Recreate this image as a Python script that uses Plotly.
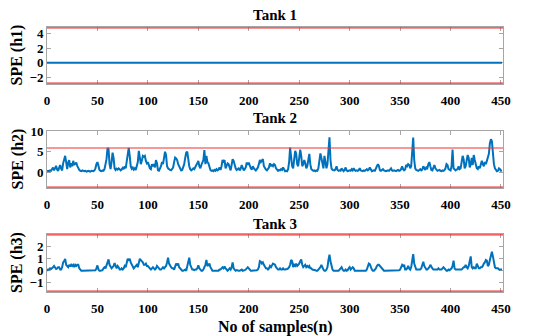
import plotly.graph_objects as go

# ---------------- data ----------------
n_samples = 452
x_ticks = [0, 50, 100, 150, 200, 250, 300, 350, 400, 450]

tank_titles = ["Tank 1", "Tank 2", "Tank 3"]
y_titles = ["SPE (h1)", "SPE (h2)", "SPE (h3)"]

tank1_spe = [0.0] * n_samples

tank2_spe = [
    0.3, 0.4, 0.3, 0.5, 0.4, 0.8, 1.2, 0.5, 0.9, 1.6, 0.7, 0.4, 1.1, 1.8, 0.9, 0.5, 2.2, 3.6, 4.0, 2.5,
    0.8, 2.4, 3.0, 1.2, 2.2, 1.5, 2.8, 1.8, 2.1, 2.4, 1.6, 1.0, 0.6, 0.4, 0.3, 0.5, 0.4, 0.3, 0.4, 0.2,
    0.3, 0.4, 0.3, 0.2, 0.4, 0.3, 0.3, 0.5, 1.0, 2.0, 2.5, 1.6, 0.6, 0.4, 0.3, 0.5, 0.4, 0.8, 1.8, 3.2,
    5.9, 5.6, 2.0, 0.8, 2.5, 4.8, 3.5, 1.0, 0.6, 0.9, 0.7, 1.0, 0.8, 0.5, 0.7, 1.1, 0.8, 1.5, 1.0, 2.5,
    4.5, 5.9, 4.0, 1.5, 0.9, 1.2, 0.7, 1.0, 0.6, 1.5, 2.5, 5.2, 3.5, 2.0, 2.8, 4.0, 3.8, 4.0, 2.8, 2.2,
    2.5, 1.5, 1.0, 0.8, 2.0, 1.5, 2.0, 1.2, 3.0, 2.2, 0.5, 0.4, 0.8, 1.5, 2.5, 2.0, 3.5, 5.0, 4.2, 1.5,
    1.0, 0.7, 0.6, 0.5, 0.8, 1.2, 2.5, 3.6, 3.4, 3.0, 2.0, 1.5, 0.8, 0.5, 0.6, 1.2, 2.0, 3.5, 4.8, 5.0,
    2.5, 1.5, 0.8, 0.5, 0.7, 1.0, 0.8, 1.5, 1.8, 2.2, 2.8, 1.5, 1.0, 1.8, 2.5, 3.0, 5.4, 2.0, 4.0, 2.5,
    2.2, 1.0, 0.6, 0.4, 0.5, 0.3, 0.6, 0.4, 0.8, 0.5, 0.7, 1.2, 0.6, 1.5, 3.0, 2.6, 3.0, 1.0, 1.5, 2.2,
    2.0, 1.0, 0.5, 1.8, 3.2, 2.8, 1.5, 1.0, 0.6, 0.8, 1.0, 0.5, 0.9, 1.8, 1.0, 0.5, 0.8, 1.2, 2.4, 1.8,
    2.4, 1.5, 1.0, 0.7, 1.5, 1.0, 0.6, 0.5, 0.8, 1.2, 2.0, 3.0, 2.5, 2.8, 3.2, 1.5, 1.0, 0.7, 0.5, 0.8,
    1.2, 2.2, 1.5, 1.8, 1.5, 2.0, 1.8, 1.0, 0.5, 0.4, 0.6, 0.5, 0.8, 0.6, 1.2, 0.5, 0.3, 0.4, 0.3, 0.8,
    2.5, 6.0, 4.0, 1.5, 1.0, 3.0, 5.2, 4.5, 2.0, 1.5, 3.5, 5.5, 4.0, 1.5, 2.0, 3.0, 2.2, 1.0, 1.5, 3.5,
    4.5, 2.0, 0.8, 0.6, 0.4, 0.5, 0.3, 0.5, 0.4, 1.0, 3.0, 4.6, 3.5, 1.5, 1.0, 4.0, 2.2, 1.0, 2.0, 6.5,
    8.5, 3.0, 1.0, 0.6, 0.5, 0.5, 0.8, 1.5, 0.6, 0.4, 0.5, 0.4, 1.0, 0.5, 0.3, 0.6, 1.2, 0.5, 0.3, 0.4,
    0.5, 0.4, 0.8, 0.5, 1.0, 0.6, 0.4, 0.5, 0.4, 0.6, 1.0, 0.5, 0.4, 0.3, 0.5, 0.4, 0.6, 0.8, 0.5, 0.7,
    1.2, 0.6, 0.3, 0.4, 0.5, 0.4, 0.8, 1.5, 2.0, 1.6, 0.5, 0.4, 0.6, 0.8, 0.5, 0.4, 0.3, 0.4, 0.5, 0.4,
    0.6, 1.0, 0.5, 0.4, 0.5, 0.4, 0.3, 0.5, 0.6, 0.4, 0.5, 0.8, 1.5, 0.8, 0.5, 0.7, 1.8, 1.5, 2.0, 1.8,
    1.0, 1.5, 6.0, 8.4, 3.0, 1.0, 0.6, 0.5, 0.4, 0.6, 0.8, 0.5, 0.7, 1.5, 0.8, 0.6, 1.2, 1.0, 2.0, 2.5,
    1.5, 0.6, 0.5, 1.0, 1.8, 1.0, 0.5, 0.4, 0.5, 0.6, 0.4, 0.3, 0.5, 0.4, 0.6, 1.0, 2.0, 1.8, 0.8, 0.6,
    0.5, 1.5, 5.5, 1.0, 0.6, 0.5, 0.7, 0.8, 1.5, 0.8, 1.0, 2.5, 4.0, 3.2, 1.0, 1.5, 3.0, 4.2, 3.5, 1.2,
    2.0, 3.5, 1.8, 4.2, 3.0, 1.5, 1.0, 0.8, 1.5, 1.0, 1.8, 2.8, 2.0, 1.5, 2.5, 2.0, 2.8, 3.5, 4.5, 7.0,
    8.0, 7.5, 4.0, 2.0, 1.0, 0.5, 0.3, 0.4, 1.0, 0.8, 0.4, 0.5,
]

tank3_spe = [
    0.0, 0.1, 0.1, 0.2, 0.15, 0.2, 0.3, 0.4, 0.2, 0.15, 0.2, 0.3, 0.3, 0.1, 0.1, 0.3, 0.7, 0.8, 1.0, 0.5,
    0.4, 0.3, 0.5, 0.35, 0.5, 0.4, 0.5, 0.3, 0.5, 0.4, 0.5, 0.5, 0.2, 0.05, 0.0, 0.0, 0.0, 0.0, 0.0, 0.0,
    0.0, 0.0, 0.0, 0.0, 0.0, 0.0, 0.0, 0.0, 0.05, 0.2, 0.45, 0.1, 0.0, 0.0, 0.0, 0.05, 0.2, 0.3, 0.2, 0.5,
    0.8, 0.95, 0.5, 0.3, 0.2, 0.3, 0.4, 0.65, 0.3, 0.2, 0.4, 0.3, 0.1, 0.1, 0.2, 0.1, 0.2, 0.4, 0.3, 0.6,
    1.0, 0.9, 1.0, 0.7, 0.5, 0.3, 0.2, 0.3, 0.4, 0.5, 0.3, 0.6, 1.0, 0.9, 0.8, 0.7, 0.5, 0.5, 0.6, 0.4,
    0.4, 0.3, 0.2, 0.1, 0.2, 0.3, 0.2, 0.1, 0.2, 0.4, 0.3, 0.2, 0.1, 0.1, 0.2, 0.3, 0.2, 0.3, 0.4, 0.7,
    1.1, 0.6, 0.4, 0.3, 0.2, 0.2, 0.1, 0.3, 0.6, 0.5, 0.6, 0.3, 0.2, 0.1, 0.0, 0.0, 0.05, 0.1, 0.0, 0.3,
    0.7, 1.1, 0.5, 0.2, 0.1, 0.1, 0.05, 0.1, 0.1, 0.2, 0.45, 0.2, 0.1, 0.0, 0.0, 0.1, 0.3, 0.5, 0.9, 0.4,
    0.5, 0.6, 0.3, 0.1, 0.0, 0.0, 0.0, 0.05, 0.0, 0.0, 0.0, 0.1, 0.1, 0.2, 0.3, 0.2, 0.35, 0.2, 0.1, 0.0,
    0.1, 0.2, 0.1, 0.3, 0.7, 0.2, 0.1, 0.0, 0.05, 0.0, 0.0, 0.0, 0.05, 0.1, 0.0, 0.0, 0.05, 0.1, 0.2, 0.3,
    0.2, 0.1, 0.0, 0.0, 0.0, 0.0, 0.0, 0.0, 0.05, 0.1, 0.3, 0.8, 0.75, 0.6, 0.7, 0.5, 0.3, 0.2, 0.2, 0.1,
    0.2, 0.4, 0.3, 0.5, 0.6, 0.55, 0.5, 0.3, 0.2, 0.1, 0.1, 0.2, 0.1, 0.1, 0.2, 0.1, 0.1, 0.1, 0.15, 0.2,
    0.3, 0.5, 0.9, 0.8, 0.3, 0.5, 0.4, 0.6, 0.4, 0.5, 0.6, 0.8, 0.95, 0.5, 0.3, 0.4, 0.5, 0.3, 0.4, 0.3,
    0.4, 0.2, 0.2, 0.1, 0.1, 0.1, 0.05, 0.0, 0.0, 0.1, 0.2, 0.3, 0.5, 0.2, 0.1, 0.0, 0.0, 0.1, 0.3, 0.9,
    1.35, 0.8, 0.3, 0.1, 0.0, 0.0, 0.0, 0.05, 0.0, 0.0, 0.1, 0.2, 0.3, 0.1, 0.0, 0.0, 0.1, 0.0, 0.05, 0.2,
    0.3, 0.1, 0.2, 0.3, 0.2, 0.0, 0.0, 0.0, 0.0, 0.0, 0.0, 0.0, 0.0, 0.0, 0.0, 0.05, 0.0, 0.1, 0.3, 0.6,
    0.55, 0.2, 0.1, 0.0, 0.0, 0.1, 0.2, 0.4, 0.5, 0.5, 0.4, 0.3, 0.2, 0.1, 0.0, 0.0, 0.0, 0.0, 0.0, 0.0,
    0.0, 0.05, 0.0, 0.0, 0.0, 0.0, 0.0, 0.0, 0.0, 0.05, 0.1, 0.3, 0.5, 0.4, 0.5, 0.1, 0.1, 0.2, 0.4, 0.2,
    0.1, 0.3, 0.8, 1.4, 0.6, 0.3, 0.1, 0.1, 0.1, 0.05, 0.1, 0.2, 0.4, 0.75, 0.4, 0.2, 0.1, 0.1, 0.2, 0.3,
    0.5, 0.3, 0.2, 0.1, 0.1, 0.1, 0.15, 0.1, 0.2, 0.1, 0.1, 0.1, 0.2, 0.3, 0.2, 0.1, 0.0, 0.0, 0.1, 0.05,
    0.1, 0.2, 0.4, 0.85, 0.2, 0.1, 0.1, 0.1, 0.05, 0.1, 0.1, 0.1, 0.2, 0.3, 0.3, 0.5, 0.3, 0.2, 0.4, 0.8,
    1.2, 0.3, 0.2, 0.3, 0.2, 0.2, 0.6, 0.4, 0.2, 0.2, 0.3, 0.3, 0.4, 0.6, 0.7, 0.9, 0.85, 0.4, 0.5, 0.9,
    1.4, 1.6, 1.2, 0.7, 0.3, 0.2, 0.2, 0.2, 0.1, 0.1, 0.1, 0.1,
]

series = [tank1_spe, tank2_spe, tank3_spe]

# control limits (upper, lower) for each tank
upper_limits = [4.8, 5.9, 3.0]
lower_limits = [-2.8, -3.55, -1.7]

y_ranges = [[-2.92, 4.92], [-3.75, 10.0], [-1.78, 3.08]]
y_tickvals = [[-2, 0, 2, 4], [0, 5, 10], [-1, 0, 1, 2]]

# ---------------- layout geometry ----------------
# page body adds an 8px offset, so the figure is drawn 8px smaller and
# every target position (window pixels) is shifted by -8
OFF = 8
W, H = 542 - OFF, 336 - OFF
L, R = 47 - OFF, 39
boxes_px = [(27 - OFF, 84 - OFF), (131 - OFF, 188 - OFF), (234 - OFF, 292 - OFF)]
title_px = [15 - OFF, 118 - OFF, 224 - OFF]
ytitle_x = 17 - OFF
xtitle_y = 327 - OFF

FONT = "Liberation Serif"
BLUE = "#0072BD"
RED = "#F03030"
AX = "#A6A6A6"

fig = go.Figure()

for i, vals in enumerate(series):
    xa = "x" if i == 0 else f"x{i+1}"
    ya = "y" if i == 0 else f"y{i+1}"
    xs = list(range(len(vals)))
    fig.add_trace(go.Scatter(x=xs, y=vals, mode="lines", xaxis=xa, yaxis=ya,
                             line=dict(color=BLUE, width=2), showlegend=False,
                             hoverinfo="skip"))
    for lim in (upper_limits[i], lower_limits[i]):
        fig.add_trace(go.Scatter(x=[0, n_samples], y=[lim, lim], mode="lines",
                                 xaxis=xa, yaxis=ya, showlegend=False,
                                 line=dict(color=RED, width=1.2), hoverinfo="skip"))

layout = dict(
    width=W, height=H,
    margin=dict(l=L, r=R, t=0, b=0, pad=0, autoexpand=False),
    paper_bgcolor="white", plot_bgcolor="white",
    font=dict(family=FONT, color="black"),
    showlegend=False,
    annotations=[],
)

for i in range(3):
    top, bot = boxes_px[i]
    dom = [1 - bot / H, 1 - top / H]
    xk = "xaxis" if i == 0 else f"xaxis{i+1}"
    yk = "yaxis" if i == 0 else f"yaxis{i+1}"
    anchor_y = "y" if i == 0 else f"y{i+1}"
    anchor_x = "x" if i == 0 else f"x{i+1}"
    layout[xk] = dict(
        domain=[0, 1], anchor=anchor_y, range=[0, n_samples],
        tickvals=x_ticks, ticks="inside", ticklen=4, tickcolor=AX,
        showline=True, linecolor=AX, linewidth=1, mirror="ticks",
        showgrid=False, zeroline=False, automargin=False, layer="below traces",
        ticklabelstandoff=4,
        tickfont=dict(family=FONT, size=13, weight="bold", color="black"),
    )
    layout[yk] = dict(
        domain=dom, anchor=anchor_x, range=y_ranges[i],
        tickvals=y_tickvals[i], ticks="inside", ticklen=4, tickcolor=AX,
        showline=True, linecolor=AX, linewidth=1, mirror="ticks",
        showgrid=False, zeroline=False, automargin=False, layer="below traces",
        tickfont=dict(family=FONT, size=13, weight="bold", color="black"),
    )
    layout["annotations"].append(dict(
        text=f"<b>{tank_titles[i]}</b>", xref="paper", yref="paper",
        x=0.5, y=1 - title_px[i] / H, xanchor="center", yanchor="middle",
        showarrow=False, font=dict(family=FONT, size=15, color="black")))
    layout["annotations"].append(dict(
        text=f"<b>{y_titles[i]}</b>", xref="paper", yref="paper",
        x=(ytitle_x - L) / (W - L - R), y=1 - (top + bot) / 2 / H,
        xanchor="center", yanchor="middle", textangle=-90,
        showarrow=False, font=dict(family=FONT, size=16, color="black")))

layout["annotations"].append(dict(
    text="<b>No of samples(n)</b>", xref="paper", yref="paper",
    x=0.5, y=1 - xtitle_y / H, xanchor="center", yanchor="middle",
    showarrow=False, font=dict(family=FONT, size=16, color="black")))

fig.update_layout(**layout)
fig.write_html("out.html")
